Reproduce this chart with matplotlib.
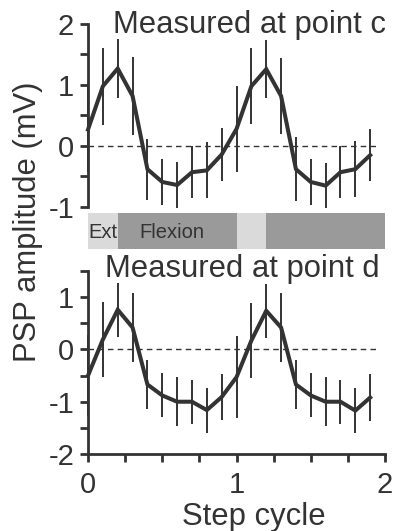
import matplotlib
matplotlib.use("Agg")
import matplotlib.pyplot as plt
from matplotlib.ticker import MultipleLocator

plt.rcParams['font.family'] = ['Liberation Sans', 'DejaVu Sans']
plt.rcParams['axes.unicode_minus'] = False

# step cycle phase (two cycles, 0.1 steps)
step = [0.0, 0.1, 0.2, 0.3, 0.4, 0.5, 0.6, 0.7, 0.8, 0.9,
        1.0, 1.1, 1.2, 1.3, 1.4, 1.5, 1.6, 1.7, 1.8, 1.9]

# PSP amplitude (mV), point c
c_mean = [0.27, 0.98, 1.27, 0.82, -0.38, -0.59, -0.64, -0.43, -0.40, -0.14,
          0.28, 0.98, 1.26, 0.82, -0.38, -0.59, -0.65, -0.43, -0.38, -0.15]
c_err = [0.70, 0.63, 0.49, 0.64, 0.50, 0.38, 0.37, 0.43, 0.46, 0.43,
         0.71, 0.62, 0.48, 0.63, 0.52, 0.37, 0.37, 0.43, 0.46, 0.43]

# PSP amplitude (mV), point d
d_mean = [-0.50, 0.19, 0.76, 0.42, -0.67, -0.88, -1.00, -1.00, -1.16, -0.91,
          -0.53, 0.17, 0.74, 0.42, -0.67, -0.88, -1.00, -1.00, -1.17, -0.92]
d_err = [0.78, 0.72, 0.52, 0.66, 0.47, 0.42, 0.47, 0.42, 0.43, 0.44,
         0.78, 0.72, 0.52, 0.66, 0.47, 0.42, 0.47, 0.42, 0.43, 0.45]

# phase bar
phase_start = [0.0, 0.2, 1.0, 1.2]
phase_len = [0.2, 0.8, 0.2, 0.8]
phase_color = ['#dadada', '#9a9a9a', '#dadada', '#9a9a9a']

INK = '#333333'
TICK_FS = 21
LABEL_FS = 22.3

fig = plt.figure(figsize=(3.99, 5.31), dpi=100)
fig.patch.set_facecolor('white')

ax_c = fig.add_axes([0.2206, 0.6102, 0.7444, 0.3446])
ax_bar = fig.add_axes([0.2206, 0.531, 0.7444, 0.0678])
ax_d = fig.add_axes([0.2206, 0.145, 0.7444, 0.3446])


def style_axis(ax, ylo, yhi, show_x):
    ax.set_xlim(0, 2)
    ax.set_ylim(ylo, yhi)
    for s in ['top', 'right']:
        ax.spines[s].set_visible(False)
    ax.spines['left'].set_color(INK)
    ax.spines['left'].set_linewidth(2.0)
    ax.yaxis.set_major_locator(MultipleLocator(1))
    ax.yaxis.set_minor_locator(MultipleLocator(0.5))
    ax.tick_params(axis='y', which='both', direction='out', length=6,
                   width=2.0, color=INK, labelsize=TICK_FS, labelcolor=INK, pad=4)
    if show_x:
        ax.spines['bottom'].set_color(INK)
        ax.spines['bottom'].set_linewidth(2.0)
        ax.xaxis.set_major_locator(MultipleLocator(1))
        ax.xaxis.set_minor_locator(MultipleLocator(0.25))
        ax.tick_params(axis='x', which='both', direction='out', length=6,
                       width=2.0, color=INK, labelsize=TICK_FS, labelcolor=INK, pad=6)
    else:
        ax.spines['bottom'].set_visible(False)
        ax.set_xticks([])
    ax.set_facecolor('none')


def draw_trace(ax, mean, err):
    ax.plot([0, 1.96], [0, 0], ls=(0, (4, 3)), color=INK, lw=1.0)
    ax.errorbar(step, mean, yerr=err, fmt='none', ecolor=INK,
                elinewidth=1.4, capsize=0, clip_on=False)
    ax.plot(step, mean, color=INK, lw=2.9, solid_joinstyle='miter',
            clip_on=False, zorder=3)


style_axis(ax_c, -1, 2, False)
draw_trace(ax_c, c_mean, c_err)
ax_c.text(0.17, 1.85, 'Measured at point c', fontsize=LABEL_FS, color=INK,
          ha='left', va='baseline', clip_on=False)

style_axis(ax_d, -2, 1.5, True)
draw_trace(ax_d, d_mean, d_err)
ax_d.text(0.115, 1.38, 'Measured at point d', fontsize=LABEL_FS, color=INK,
          ha='left', va='baseline', clip_on=False)

# extension / flexion bar
ax_bar.barh([0] * len(phase_start), phase_len, left=phase_start, height=1.0,
            color=phase_color, align='edge')
ax_bar.set_xlim(0, 2)
ax_bar.set_ylim(0, 1)
ax_bar.axis('off')
ax_bar.text(0.005, 0.47, 'Ext', fontsize=14.5, color=INK, ha='left', va='center')
ax_bar.text(0.345, 0.47, 'Flexion', fontsize=14.5, color=INK, ha='left', va='center')

fig.text(28 / 399, 1 - 222 / 531, 'PSP amplitude (mV)', rotation=90,
         fontsize=LABEL_FS, color=INK, ha='center', va='center')
fig.text(254 / 399, 1 - 525 / 531, 'Step cycle', fontsize=LABEL_FS, color=INK,
         ha='center', va='baseline')

fig.savefig('out.png', dpi=100, facecolor='white')
